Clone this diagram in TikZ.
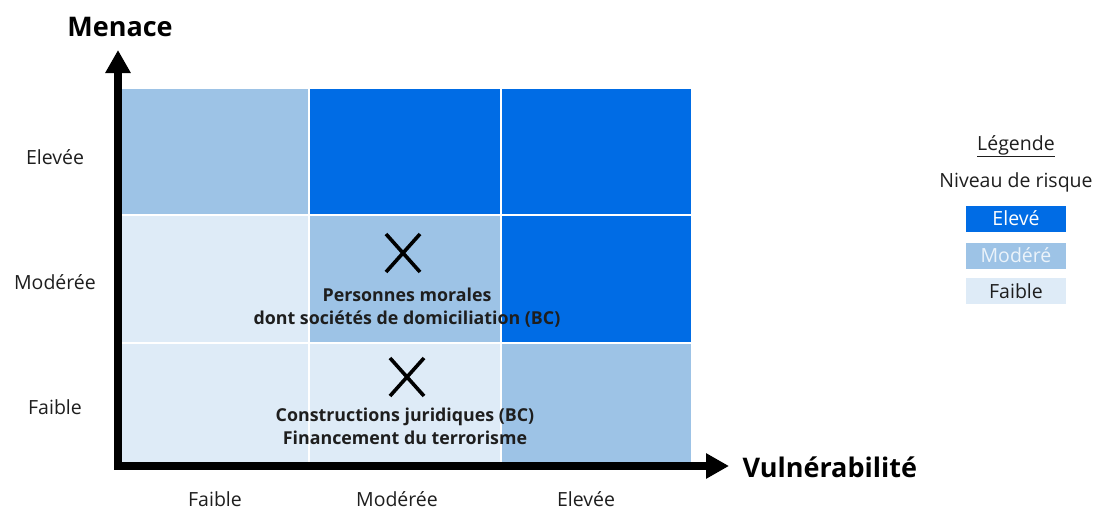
\documentclass[tikz,border=0pt]{standalone}
\usepackage{fontspec}
\setmainfont{Open Sans}
\usepackage{tikz}
\usetikzlibrary{arrows.meta}
\usetikzlibrary{positioning}

\definecolor{risqueEleve}{HTML}{006CE5}
\definecolor{risqueModere}{HTML}{9DC3E6}
\definecolor{risqueFaible}{HTML}{DEEBF7}
\definecolor{texte}{HTML}{1E1E1E}

\tikzset{
  cell/.style={draw=white, line width=2pt},
  axis/.style={line width=8pt, line join=miter, {Triangle[length=23pt,width=24pt]}-{Triangle[length=23pt,width=24pt]}},
  axistitle/.style={font=\fontsize{27}{30}\selectfont\bfseries, text=black},
  level/.style={font=\fontsize{19.5}{22}\selectfont, text=texte},
  item/.style={font=\fontsize{17.8}{23}\selectfont\bfseries, text=texte, align=center},
  cross/.style={line width=3.6pt, line cap=butt},
  legendbox/.style={minimum width=100pt, minimum height=26pt, inner sep=0pt, font=\fontsize{19.5}{22}\selectfont},
}

\begin{document}
\begin{tikzpicture}[x=1pt, y=-1pt]
  \useasboundingbox (0,0) rectangle (1099,509);

  % Column and row edges of the matrix
  \def\xa{120} \def\xb{309} \def\xc{501} \def\xd{692}
  \def\ya{88}  \def\yb{215} \def\yc{343} \def\yd{465}

  % Top row (menace elevee)
  \fill[risqueModere, cell] (\xa,\ya) rectangle (\xb,\yb);
  \fill[risqueEleve, cell] (\xb,\ya) rectangle (\xc,\yb);
  \fill[risqueEleve, cell] (\xc,\ya) rectangle (\xd,\yb);
  % Middle row (menace moderee)
  \fill[risqueFaible, cell] (\xa,\yb) rectangle (\xb,\yc);
  \fill[risqueModere, cell] (\xb,\yb) rectangle (\xc,\yc);
  \fill[risqueEleve, cell] (\xc,\yb) rectangle (\xd,\yc);
  % Bottom row (menace faible)
  \fill[risqueFaible, cell] (\xa,\yc) rectangle (\xb,\yd);
  \fill[risqueFaible, cell] (\xb,\yc) rectangle (\xc,\yd);
  \fill[risqueModere, cell] (\xc,\yc) rectangle (\xd,\yd);

  % Axes
  \coordinate (origin) at (118,466);
  \coordinate (ytip) at (118,50);
  \coordinate (xtip) at (729,466);
  \draw[axis] (ytip) -- (origin) -- (xtip);
  \node[axistitle] (menace) at (120,27) {Menace};
  \node[axistitle, anchor=west] (vuln) at (739,467) {Vulnérabilité};

  % Levels of the menace axis
  \node[level] (mElevee) at (55,157) {Elevée};
  \node[level] (mModeree) at (55,282) {Modérée};
  \node[level] (mFaible) at (55,407) {Faible};

  % Levels of the vulnerability axis
  \node[level] (vFaible) at (215,499) {Faible};
  \node[level] (vModeree) at (397,499) {Modérée};
  \node[level] (vElevee) at (586,499) {Elevée};

  % Crosses and their labels
  \draw[cross] (386,234) -- (420,272) (386,272) -- (420,234);
  \node[item] (morales) at (407,308) {Personnes morales\\dont sociétés de domiciliation (BC)};
  \draw[cross] (390,358) -- (424,396) (390,396) -- (424,358);
  \node[item] (juridiques) at (405,426) {Constructions juridiques (BC)\\Financement du terrorisme};

  % Legend
  \node[level] (legende) at (1016,146) {\underline{Légende}};
  \node[level] (niveau) at (1016,182) {Niveau de risque};
  \node[legendbox, fill=risqueEleve, text=white] (lEleve) at (1016,218.5) {Elevé};
  \node[legendbox, fill=risqueModere, text=risqueFaible!60!white] (lModere) at (1016,255.5) {Modéré};
  \node[legendbox, fill=risqueFaible, text=texte] (lFaible) at (1016,291) {Faible};
\end{tikzpicture}
\end{document}
